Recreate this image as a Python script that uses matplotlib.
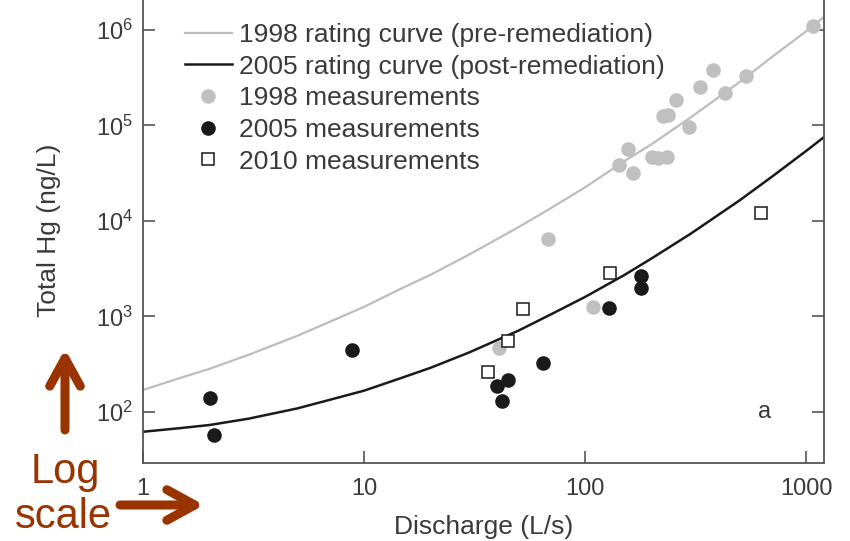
import matplotlib
matplotlib.use("Agg")
import matplotlib.pyplot as plt

plt.rcParams['font.family'] = ['Liberation Sans', 'DejaVu Sans']

# rating curves
curve_q = [1, 1.5, 2, 3, 5, 7, 10, 15, 20, 30, 50, 70, 100, 150, 200, 300,
           500, 700, 1000, 1210]
curve_1998 = [170, 230, 283, 396, 628, 880, 1260, 2000, 2730, 4470, 8610,
              13600, 22500, 42000, 63600, 121000, 284000, 520000, 968000, 1.38e6]
curve_2005 = [62, 68, 73, 85, 109, 134, 167, 230, 290, 421, 711, 1050,
              1600, 2700, 4050, 7330, 16400, 29000, 54000, 76000]

# 1998 measurements
q_1998 = [40.8, 68, 109, 143, 157, 165, 200, 215, 235, 225, 238, 258,
          295, 331, 380, 430, 535, 1072]
hg_1998 = [470, 6500, 1260, 39000, 57000, 32000, 47000, 46000, 47000,
           125000, 130000, 186000, 96000, 250000, 380000, 220000, 330000, 1.1e6]

# 2005 measurements
q_2005 = [2.01, 2.1, 8.8, 40, 42, 44.8, 64.6, 128, 179, 179]
hg_2005 = [140, 57, 446, 187, 130, 216, 326, 1230, 2660, 2000]

# 2010 measurements
q_2010 = [36.4, 44.9, 52.4, 130, 626]
hg_2010 = [262, 553, 1200, 2850, 12100]

text_col = '#3a3a3a'
spine_col = '#555555'
rust = '#993300'

fig = plt.figure(figsize=(8.5, 5.41), dpi=100)
ax = fig.add_axes([143 / 850, 78 / 541, 681 / 850, 480.75 / 541])

ax.plot(curve_q, curve_1998, color='#bdbdbd', lw=1.6,
        label='1998 rating curve (pre-remediation)')
ax.plot(curve_q, curve_2005, color='#1a1a1a', lw=1.8,
        label='2005 rating curve (post-remediation)')
ax.plot(q_1998, hg_1998, 'o', color='#c0c0c0', ms=10.5, mew=0,
        label='1998 measurements')
ax.plot(q_2005, hg_2005, 'o', color='#1a1a1a', ms=10.5, mew=0,
        label='2005 measurements')
ax.plot(q_2010, hg_2010, 's', mfc='white', mec='#1a1a1a', ms=8, mew=1.1,
        label='2010 measurements')

ax.set_xscale('log')
ax.set_yscale('log')
ax.set_xlim(1, 1206)
ax.set_ylim(29.2, 10 ** 6.5)
ax.set_xticks([1, 10, 100, 1000])
ax.set_xticklabels(['1', '10', '100', '1000'])
ax.set_yticks([1e2, 1e3, 1e4, 1e5, 1e6])
ax.minorticks_off()

for s in ax.spines.values():
    s.set_color(spine_col)
    s.set_linewidth(1.3)
ax.tick_params(axis='both', direction='in', length=8.5, width=1.2,
               color=spine_col, labelsize=17, labelcolor=text_col,
               right=True, top=True)
ax.tick_params(axis='x', pad=11)
ax.tick_params(axis='y', pad=7)

ax.set_xlabel('Discharge (L/s)', fontsize=19, color=text_col)
ax.set_ylabel('Total Hg (ng/L)', fontsize=19, color=text_col)
ax.xaxis.set_label_coords(0.5, -0.109)
ax.yaxis.set_label_coords(-0.120, 0.485)

ax.text(0.912, 0.106, 'a', transform=ax.transAxes, fontsize=17,
        color=text_col, ha='center', va='center')

leg = ax.legend(loc='upper left', bbox_to_anchor=(185 / 850, 1 - 23 / 541),
                bbox_transform=fig.transFigure, frameon=False, fontsize=19,
                handlelength=1.78, handletextpad=0.28, labelspacing=0.29,
                borderpad=0, borderaxespad=0, numpoints=1)
for t in leg.get_texts():
    t.set_color(text_col)

# "Log scale" annotation
fig.text(65 / 850, 1 - 472 / 541, 'Log', fontsize=30, color=rust,
         ha='center', va='center')
fig.text(63 / 850, 1 - 517 / 541, 'scale', fontsize=30, color=rust,
         ha='center', va='center')
arrow = dict(arrowstyle='->,head_length=2.0,head_width=1.1', color=rust,
             lw=6.5, capstyle='round', joinstyle='round', shrinkA=0, shrinkB=0)
ax.annotate('', xy=(65, 541 - 349), xytext=(65, 541 - 430),
            xycoords='figure pixels', textcoords='figure pixels',
            arrowprops=arrow, annotation_clip=False)
ax.annotate('', xy=(204, 541 - 505), xytext=(120, 541 - 505),
            xycoords='figure pixels', textcoords='figure pixels',
            arrowprops=arrow, annotation_clip=False)

fig.savefig('out.png', dpi=100)
